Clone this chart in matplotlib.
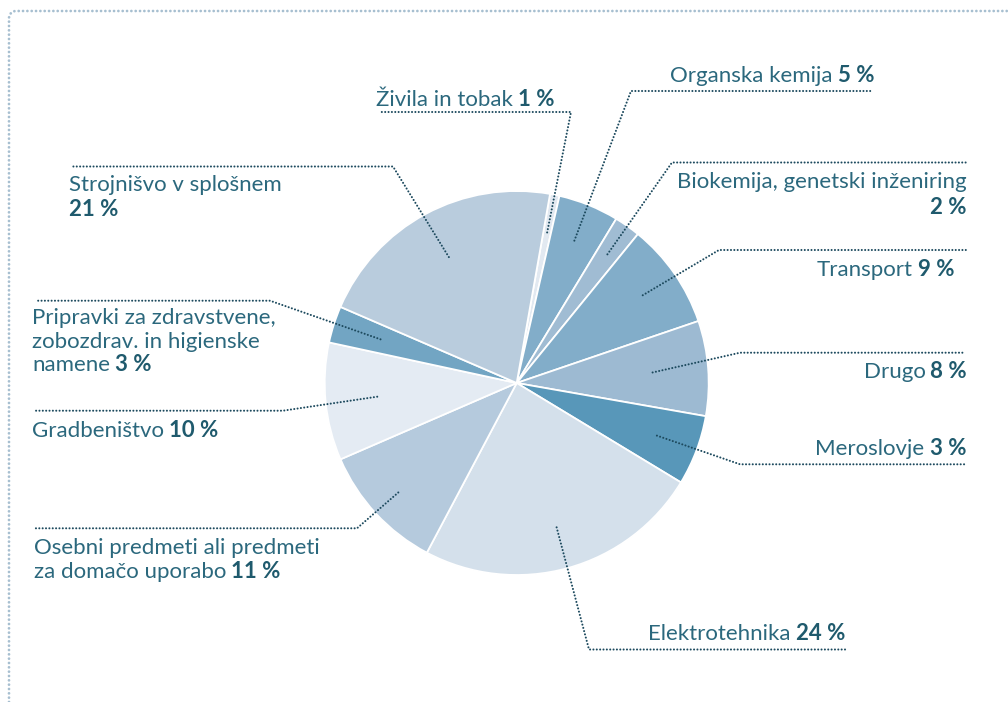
import matplotlib.pyplot as plt
import numpy as np

plt.rcParams['font.family'] = ['Lato', 'DejaVu Sans']

# data (clockwise from the top)
categories = ['Živila in tobak', 'Organska kemija', 'Biokemija, genetski inženiring',
              'Transport', 'Drugo', 'Meroslovje', 'Elektrotehnika',
              'Osebni predmeti ali predmeti\nza domačo uporabo', 'Gradbeništvo',
              'Pripravki za zdravstvene,\nzobozdrav. in higienske\nnamene',
              'Strojnišvo v splošnem']
label_pct = [1, 5, 2, 9, 8, 3, 24, 11, 10, 3, 21]
shares = [0.8, 5.1, 2.2, 8.9, 8.0, 5.9, 24.1, 10.75, 9.9, 3.1, 21.3]
colors = ['#e2e9f1', '#82adc9', '#a0bcd3', '#82adc9', '#9dbad2', '#5897b9',
          '#d4e0eb', '#b5cadd', '#e4ebf3', '#72a5c3', '#b9ccdd']

W, H = 1008, 702
TXT = '#2b687d'
PCT = '#1f5a6d'
LEAD = '#1d4a5e'
FS = 16

# layout in pixels (y down): text anchor, alignment, pct on own line,
# leader start fraction of radius, elbow, line end
layout = [
    (376, 106, 'left', False, 0.80, (571, 112), (379, 112)),
    (874, 82, 'right', False, 0.80, (631, 91), (871, 91)),
    (967, 188, 'right', True, 0.82, (672, 162.5), (967, 162.5)),
    (954, 276, 'right', False, 0.80, (719, 250), (967, 250)),
    (967, 378, 'right', False, 0.71, (740, 352.7), (965, 352.7)),
    (966, 455, 'right', False, 0.78, (740, 464.3), (965, 464.3)),
    (845, 640, 'right', False, 0.78, (589, 649.5), (845, 649.5)),
    (34, 554, 'left', False, 0.84, (357, 528.3), (33, 528.3)),
    (32, 437, 'left', False, 0.73, (283, 410.7), (33, 410.7)),
    (32, 324, 'left', False, 0.745, (270, 300.7), (37, 300.7)),
    (69, 191, 'left', True, 0.745, (393, 166.5), (72, 166.5)),
]

cx, cy, R = 516.7, H - 383, 192

fig = plt.figure(figsize=(W / 100, H / 100), dpi=100)
ax = fig.add_axes([0, 0, 1, 1])
wedges, _ = ax.pie(shares, colors=colors, startangle=80, counterclock=False,
                   center=(cx, cy), radius=R,
                   wedgeprops=dict(edgecolor='white', linewidth=1.3))
ax.set_xlim(0, W)
ax.set_ylim(0, H)
ax.set_aspect('equal')
ax.axis('off')

renderer = fig.canvas.get_renderer()


def width_of(t):
    return t.get_window_extent(renderer).width


def put_label(text, pct, x, y, ha, pct_own_line):
    lines = text.split('\n')
    lh = 23.5
    pct_str = f'{pct} %'
    n = len(lines)
    for i, line in enumerate(lines[:-1]):
        ax.text(x, H - (y + i * lh), line, ha=ha, va='baseline', fontsize=FS, color=TXT)
    yb = H - (y + (n - 1) * lh)
    last = lines[-1]
    if pct_own_line:
        ax.text(x, yb, last, ha=ha, va='baseline', fontsize=FS, color=TXT)
        ax.text(x, yb - lh - 2, pct_str, ha=ha, va='baseline', fontsize=FS,
                color=PCT, fontweight='bold')
    elif ha == 'left':
        t = ax.text(x, yb, last, ha='left', va='baseline', fontsize=FS, color=TXT)
        ax.text(x + width_of(t) + 5, yb, pct_str, ha='left', va='baseline',
                fontsize=FS, color=PCT, fontweight='bold')
    else:
        b = ax.text(x, yb, pct_str, ha='right', va='baseline', fontsize=FS,
                    color=PCT, fontweight='bold')
        ax.text(x - width_of(b) - 5, yb, last, ha='right', va='baseline',
                fontsize=FS, color=TXT)


dots = dict(color=LEAD, linewidth=1.5, linestyle=(0, (0.01, 1.6)),
            dash_capstyle='round', solid_capstyle='round')

for w, text, pct, lay in zip(wedges, categories, label_pct, layout):
    x, y, ha, own, frac, elbow, end = lay
    mid = np.deg2rad((w.theta1 + w.theta2) / 2)
    sx = cx + frac * R * np.cos(mid)
    sy = cy + frac * R * np.sin(mid)
    ax.plot([sx, elbow[0], end[0]], [sy, H - elbow[1], H - end[1]], **dots)
    put_label(text, pct, x, y, ha, own)

# dotted frame (top and left, rounded corner)
ang = np.linspace(np.pi, np.pi / 2, 8)
fx = np.concatenate([[9], 16 + 7 * np.cos(ang), [W]])
fy = np.concatenate([[0], H - 18 + 7 * np.sin(ang), [H - 11]])
ax.plot(fx, fy, color='#a7bfd0', linewidth=2.0, linestyle=(0, (0.01, 1.55)),
        dash_capstyle='round')

fig.savefig('out.png', dpi=100)
